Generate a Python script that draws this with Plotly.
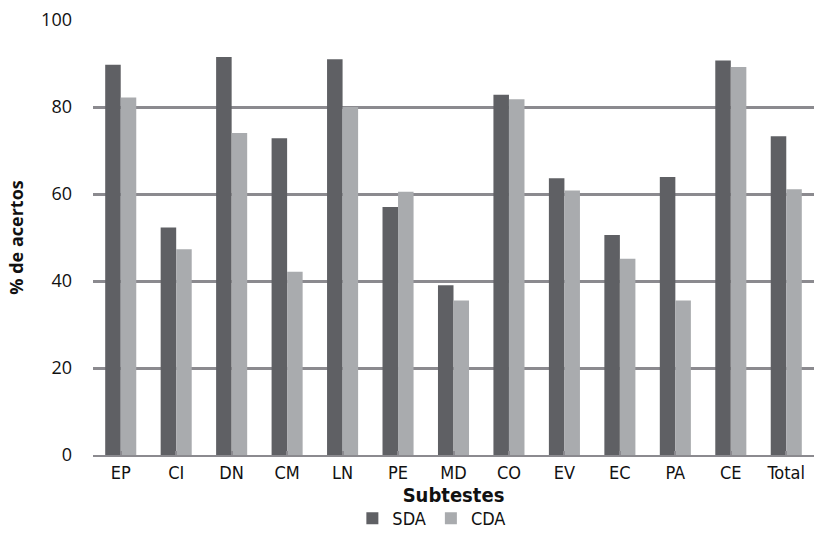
import plotly.graph_objects as go

# Subtest categories and percentage of correct answers per group
subtestes = ["EP", "CI", "DN", "CM", "LN", "PE", "MD", "CO", "EV", "EC", "PA", "CE", "Total"]
sda = [89.7, 52.3, 91.5, 72.8, 91.0, 57.0, 39.0, 82.8, 63.6, 50.6, 63.9, 90.7, 73.3]
cda = [82.2, 47.3, 74.0, 42.1, 80.0, 60.5, 35.5, 81.8, 60.8, 45.1, 35.5, 89.2, 61.1]
y_ticks = [0, 20, 40, 60, 80, 100]

GRID = "#8b8a8f"
COND = "DejaVu Sans Condensed, Liberation Sans Narrow, sans-serif"
REG = "Open Sans, sans-serif"

fig = go.Figure()
fig.add_trace(go.Bar(name="SDA", x=subtestes, y=sda, marker=dict(color="#5f6064", line=dict(width=0))))
fig.add_trace(go.Bar(name="CDA", x=subtestes, y=cda, marker=dict(color="#a9abae", line=dict(width=0))))

fig.update_layout(
    width=814,
    height=537,
    margin=dict(l=93, r=0, t=20, b=77),
    paper_bgcolor="white",
    plot_bgcolor="white",
    barmode="group",
    bargap=0.44,
    bargroupgap=0,
    font=dict(family=REG, color="#111111"),
    legend=dict(
        orientation="h",
        x=0.47,
        xanchor="center",
        y=-0.147,
        yanchor="middle",
        font=dict(family=COND, size=18, color="#111111"),
        itemwidth=30,
        tracegroupgap=0,
    ),
    xaxis=dict(
        range=[-0.5, 12.5],
        showgrid=False,
        showline=True,
        linecolor=GRID,
        linewidth=2,
        ticks="inside",
        ticklen=4,
        tickwidth=2,
        tickcolor=GRID,
        tickfont=dict(family=COND, size=18, color="#111111"),
        title=dict(text="<b>Subtestes</b>", font=dict(family=COND, size=20, color="#111111"), standoff=3),
    ),
    yaxis=dict(
        range=[0, 100],
        tickvals=y_ticks,
        showgrid=True,
        gridcolor=GRID,
        gridwidth=2.5,
        zeroline=False,
        showline=False,
        ticks="",
        ticklabelstandoff=20,
        tickfont=dict(family=REG, size=18, color="#111111"),
        title=dict(text="<b>% de acertos</b>", font=dict(family=REG, size=18, color="#111111"), standoff=12),
    ),
)

fig.write_html("out.html")
